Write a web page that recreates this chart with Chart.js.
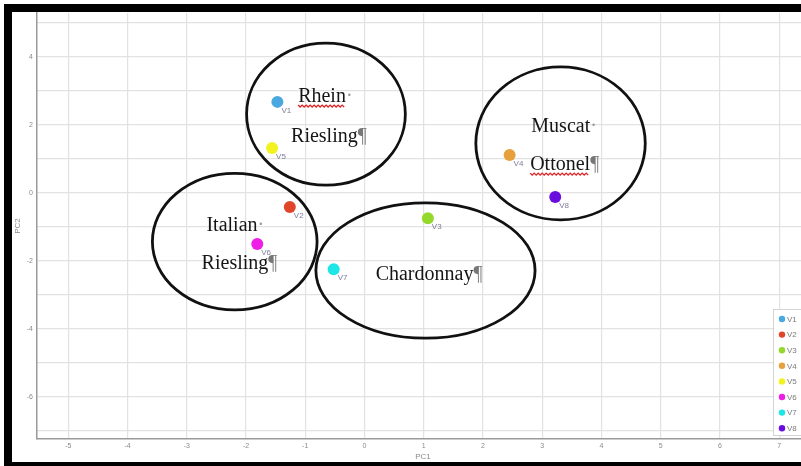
<!DOCTYPE html>
<html>
<head>
<meta charset="utf-8">
<script src="https://cdn.jsdelivr.net/npm/chart.js@4.4.1/dist/chart.umd.min.js"></script>
<style>
  html, body { margin: 0; padding: 0; background: #fff; overflow: hidden; }
  #wrap { position: relative; width: 801px; height: 466px; overflow: hidden; }
  #pca { position: absolute; left: 0; top: 0; }
  #frame {
    position: absolute; left: 4px; top: 4px; width: 900px; height: 466px;
    box-sizing: border-box; border-top: 8px solid #000; border-left: 8px solid #000;
    border-bottom: 8px solid #000; pointer-events: none;
  }
</style>
</head>
<body>
<div id="wrap">
  <canvas id="pca" width="815" height="466"></canvas>
  <div id="frame"></div>
</div>
<script>
// samples and their scores on the first two components
const sampleNames = ["V1", "V2", "V3", "V4", "V5", "V6", "V7", "V8"];
const pc1Values = [-1.47, -1.26, 1.07, 2.45, -1.56, -1.81, -0.52, 3.22];
const pc2Values = [2.68, -0.41, -0.74, 1.12, 1.32, -1.50, -2.24, -0.12];
const sampleColors = ["#4aa8e0", "#e0452a", "#94d82c", "#e6a13c", "#f2f21e", "#ee1ee6", "#1ee6e6", "#6a0ee0"];

// axis ticks (grid every unit, y labels only on even values)
const xTickValues = [-5, -4, -3, -2, -1, 0, 1, 2, 3, 4, 5, 6, 7];
const yTickValues = [-7, -6, -5, -4, -3, -2, -1, 0, 1, 2, 3, 4, 5];

// hand drawn groups (data units)
const groupLines = [["Rhein", "Riesling"], ["Muscat", "Ottonel"], ["Italian", "Riesling"], ["Chardonnay"]];
const groupCenterX = [-0.65, 3.31, -2.19, 1.03];
const groupCenterY = [2.32, 1.46, -1.43, -2.28];
const groupRadiusX = [1.34, 1.43, 1.39, 1.85];
const groupRadiusY = [2.09, 2.25, 2.01, 1.99];
const groupTextX = [[-0.66, -0.60], [3.37, 3.38], [-2.18, -2.11], [1.09]];
const groupTextY = [[2.82, 1.65], [1.94, 0.82], [-0.97, -2.09], [-2.41]];
const misspelled = ["Rhein", "Ottonel"];

const xRange = { min: -5.528, max: 7.504 };
const yRange = { min: -7.235, max: 5.294 };

const datasets = sampleNames.map((name, i) => ({
  label: name,
  data: [{ x: pc1Values[i], y: pc2Values[i] }],
  backgroundColor: sampleColors[i],
  borderWidth: 0,
  pointRadius: 6,
  pointHoverRadius: 6
}));

const groupsPlugin = {
  id: "groups",
  afterDatasetsDraw(chart) {
    const { ctx, scales: { x, y } } = chart;
    ctx.save();

    // ellipses
    ctx.strokeStyle = "#111";
    ctx.lineWidth = 2.8;
    groupCenterX.forEach((cx, i) => {
      const px = x.getPixelForValue(cx);
      const py = y.getPixelForValue(groupCenterY[i]);
      const rx = x.getPixelForValue(cx + groupRadiusX[i]) - px;
      const ry = py - y.getPixelForValue(groupCenterY[i] + groupRadiusY[i]);
      ctx.beginPath();
      ctx.ellipse(px, py, rx, ry, 0, 0, Math.PI * 2);
      ctx.stroke();
    });

    // group names, word style with formatting marks
    ctx.font = "20px 'Liberation Serif', 'Times New Roman', serif";
    ctx.textBaseline = "middle";
    ctx.textAlign = "left";
    groupLines.forEach((lines, i) => {
      lines.forEach((word, j) => {
        const mark = j === lines.length - 1 ? "\u00b6" : "\u00b7";
        const ww = ctx.measureText(word).width;
        const mw = ctx.measureText(mark).width;
        const cx = x.getPixelForValue(groupTextX[i][j]);
        const cy = y.getPixelForValue(groupTextY[i][j]);
        const left = cx - (ww + mw) / 2;
        ctx.fillStyle = "#151515";
        ctx.fillText(word, left, cy);
        ctx.fillStyle = mark === "\u00b6" ? "#777" : "#999";
        ctx.fillText(mark, left + ww, cy);

        if (misspelled.includes(word)) {
          ctx.strokeStyle = "#e02424";
          ctx.lineWidth = 1.4;
          ctx.beginPath();
          const base = cy + 8;
          for (let k = 0; k <= ww; k += 2) {
            const yy = base + ((k / 2) % 2 === 0 ? 0 : 2);
            if (k === 0) ctx.moveTo(left + k, yy);
            else ctx.lineTo(left + k, yy);
          }
          ctx.stroke();
          ctx.strokeStyle = "#111";
        }
      });
    });

    // point labels
    ctx.font = "8px 'Liberation Sans', Arial, sans-serif";
    ctx.fillStyle = "#7d7d9c";
    chart.data.datasets.forEach((ds, i) => {
      const p = chart.getDatasetMeta(i).data[0];
      ctx.fillText(ds.label, p.x + 4, p.y + 9);
    });

    ctx.restore();
  },
  afterDraw(chart) {
    // legend box in the lower right corner of the plot
    const { ctx, chartArea } = chart;
    const top = chartArea.bottom - 130;
    const left = 773;
    ctx.save();
    ctx.fillStyle = "#fff";
    ctx.strokeStyle = "#d4d4d4";
    ctx.lineWidth = 1;
    ctx.fillRect(left, top, 40, 126);
    ctx.strokeRect(left + 0.5, top + 0.5, 40, 126);
    ctx.font = "8px 'Liberation Sans', Arial, sans-serif";
    ctx.textBaseline = "middle";
    chart.data.datasets.forEach((ds, i) => {
      const cy = top + 10 + i * 15.6;
      ctx.fillStyle = ds.backgroundColor;
      ctx.beginPath();
      ctx.arc(left + 9, cy, 3.2, 0, Math.PI * 2);
      ctx.fill();
      ctx.fillStyle = "#7a7a7a";
      ctx.fillText(ds.label, left + 14, cy + 0.5);
    });
    ctx.restore();
  }
};

new Chart(document.getElementById("pca"), {
  type: "scatter",
  data: { datasets },
  plugins: [groupsPlugin],
  options: {
    responsive: false,
    animation: false,
    devicePixelRatio: 1,
    layout: { padding: { top: 13, left: 0, right: 0, bottom: 0 } },
    plugins: {
      legend: { display: false },
      tooltip: { enabled: false }
    },
    scales: {
      x: {
        type: "linear",
        min: xRange.min,
        max: xRange.max,
        afterBuildTicks: (s) => { s.ticks = xTickValues.map((v) => ({ value: v })); },
        afterFit: (s) => { s.height = 27; },
        ticks: { autoSkip: false, padding: 3, color: "#8a8a8a", font: { size: 7 } },
        grid: { color: "#e2e2e2", lineWidth: 1.2, drawTicks: false },
        border: { display: true, color: "#9a9a9a", width: 1.5 },
        title: { display: true, text: "PC1", color: "#8a8a8a", font: { size: 8 }, padding: { top: 0, bottom: 4 } }
      },
      y: {
        type: "linear",
        min: yRange.min,
        max: yRange.max,
        afterBuildTicks: (s) => { s.ticks = yTickValues.map((v) => ({ value: v })); },
        afterFit: (s) => { s.width = 37; },
        ticks: {
          autoSkip: false,
          padding: 4,
          color: "#8a8a8a",
          font: { size: 7 },
          callback: (v) => (v % 2 === 0 ? v : "")
        },
        grid: { color: "#e2e2e2", lineWidth: 1.2, drawTicks: false },
        border: { display: true, color: "#9a9a9a", width: 1.5 },
        title: { display: true, text: "PC2", color: "#8a8a8a", font: { size: 8 }, padding: { top: 13, bottom: 0 } }
      }
    }
  }
});
</script>
</body>
</html>
